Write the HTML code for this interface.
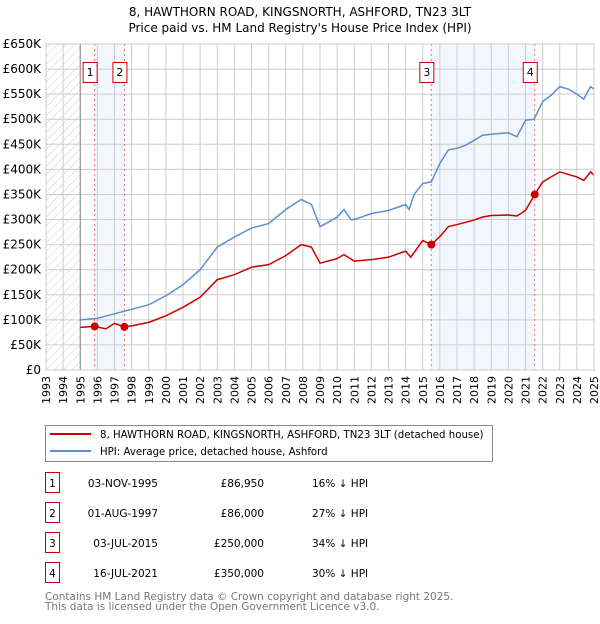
<!DOCTYPE html>
<html><head><meta charset="utf-8"><style>
body{margin:0;background:#fff;font-family:"DejaVu Sans","Liberation Sans",sans-serif}
svg text{font-family:"DejaVu Sans","Liberation Sans",sans-serif}
</style></head><body>
<svg id="c" width="600" height="620" xmlns="http://www.w3.org/2000/svg">
<defs><pattern id="hatch" width="6" height="6" patternUnits="userSpaceOnUse" patternTransform="rotate(45)"><line x1="0" y1="0" x2="0" y2="6" stroke="#ccc" stroke-width="1"/></pattern></defs>
<text x="300" y="16" text-anchor="middle" font-size="12">8, HAWTHORN ROAD, KINGSNORTH, ASHFORD, TN23 3LT</text>
<text x="300" y="32" text-anchor="middle" font-size="12">Price paid vs. HM Land Registry's House Price Index (HPI)</text>
<g id="plot"></g>
<g>
<rect x="45.5" y="425.5" width="447" height="36" fill="#fff" stroke="#888"/>
<line x1="50" y1="434" x2="91" y2="434" stroke="#cc0000" stroke-width="2"/>
<text x="100" y="438" font-size="10.2">8, HAWTHORN ROAD, KINGSNORTH, ASHFORD, TN23 3LT (detached house)</text>
<line x1="50" y1="451" x2="91" y2="451" stroke="#5b8fd1" stroke-width="2"/>
<text x="100" y="455" font-size="10.2">HPI: Average price, detached house, Ashford</text>
</g>
<g id="tbl" font-size="10.5"></g>
<text x="45" y="600" font-size="10.5" fill="#777">Contains HM Land Registry data © Crown copyright and database right 2025.</text>
<text x="45" y="610" font-size="10.5" fill="#777">This data is licensed under the Open Government Licence v3.0.</text>
</svg>
<script>
const hpiYears=[1995,1996,1997,1998,1999,2000,2001,2002,2003,2004,2005,2006,2007,2007.9,2008.5,2009,2009.5,2010,2010.4,2010.8,2011,2012,2013,2014,2014.2,2014.5,2015,2015.5,2016,2016.5,2017,2017.5,2018,2018.5,2019,2020,2020.5,2021,2021.5,2022,2022.5,2023,2023.5,2024,2024.4,2024.8,2025];
const hpiValues=[100,103,112,121,130,148,170,200,245,265,283,292,320,340,330,286,295,305,320,300,300,312,318,330,320,350,372,375,412,439,442,448,458,468,470,473,465,498,500,535,548,565,560,550,540,565,560];
const ppYears=[1995,1995.84,1996.5,1997,1997.58,1998,1999,2000,2001,2002,2003,2004,2005,2006,2007,2007.9,2008.5,2009,2010,2010.4,2011,2012,2013,2014,2014.3,2015,2015.5,2016,2016.5,2017,2018,2018.5,2019,2020,2020.5,2021,2021.54,2022,2022.5,2023,2024,2024.4,2024.8,2025];
const ppValues=[85,87,82,93,86,88,95,108,125,145,180,190,205,210,228,250,245,213,222,230,217,220,225,237,225,258,250,266,286,290,299,305,308,309,307,318,350,375,385,395,385,378,395,388];
const saleYears=[1995.84,1997.58,2015.5,2021.54];
const saleValues=[86.95,86,250,350];
const saleLabels=["1","2","3","4"];
const saleDates=["03-NOV-1995","01-AUG-1997","03-JUL-2015","16-JUL-2021"];
const salePrices=["£86,950","£86,000","£250,000","£350,000"];
const saleDiffs=["16% ↓ HPI","27% ↓ HPI","34% ↓ HPI","30% ↓ HPI"];
const yTicks=[0,50,100,150,200,250,300,350,400,450,500,550,600,650];
const xTicks=[1993,1994,1995,1996,1997,1998,1999,2000,2001,2002,2003,2004,2005,2006,2007,2008,2009,2010,2011,2012,2013,2014,2015,2016,2017,2018,2019,2020,2021,2022,2023,2024,2025];
const X0=46,X1=594,Y0=370,Y1=44;
const xs=y=>X0+(y-1993)/(2025-1993)*(X1-X0);
const ys=v=>Y0-v/650*(Y0-Y1);
const NS="http://www.w3.org/2000/svg";
const plot=document.getElementById('plot');
function mk(t,a,p){const e=document.createElementNS(NS,t);for(const k in a)e.setAttribute(k,a[k]);(p||plot).appendChild(e);return e;}
let e;
e=mk('rect',{x:X0,y:Y1,width:X1-X0,height:Y0-Y1,fill:'#fff'});


e=mk('rect',{x:X0,y:Y1,width:xs(1995)-X0,height:Y0-Y1,fill:'url(#hatch)'});


[[0,1],[2,3]].forEach(([a,b],i)=>{
 e=mk('rect',{x:xs(saleYears[a]),y:Y1,width:xs(saleYears[b])-xs(saleYears[a]),height:Y0-Y1,fill:'#eef3fc',opacity:0.7});
 
 
});
xTicks.forEach(t=>{
 e=mk('line',{x1:xs(t),x2:xs(t),y1:Y1,y2:Y0,stroke:'#ccc'});
 
 
 e=mk('text',{x:0,y:0,'font-size':11,'text-anchor':'end',transform:`translate(${xs(t)+4},${Y0+6}) rotate(-90)`});
 e.textContent=t;
 
 
});
yTicks.forEach(t=>{
 e=mk('line',{x1:X0,x2:X1,y1:ys(t),y2:ys(t),stroke:'#ccc'});
 
 
 e=mk('text',{x:X0-5,y:ys(t)+4,'font-size':12,'text-anchor':'end'});
 e.textContent=t===0?'£0':'£'+t+'K';
 
 
});
e=mk('line',{x1:xs(1995),x2:xs(1995),y1:Y1,y2:Y0,stroke:'#888'});


saleYears.forEach((s,i)=>{
 e=mk('line',{x1:xs(s),x2:xs(s),y1:Y1,y2:Y0,stroke:'#f07070','stroke-dasharray':'2,3'});
 
 
});
e=mk('polyline',{points:hpiYears.map((y,i)=>xs(y)+','+ys(hpiValues[i])).join(' '),fill:'none',stroke:'#5b8fd1','stroke-width':1.5});


e=mk('polyline',{points:ppYears.map((y,i)=>xs(y)+','+ys(ppValues[i])).join(' '),fill:'none',stroke:'#cc0000','stroke-width':1.5});


saleYears.forEach((s,i)=>{
 e=mk('circle',{cx:xs(s),cy:ys(saleValues[i]),r:4,fill:'#cc0000'});
 
 
 e=mk('rect',{x:xs(s)-11.5,y:62.5,width:14,height:20,fill:'#fff',stroke:'#cc0000'});
 
 
 e=mk('text',{x:xs(s)-4.5,y:76,'font-size':11,'text-anchor':'middle'});
 e.textContent=saleLabels[i];
 
 
});
e=mk('rect',{x:X0,y:Y1,width:X1-X0,height:Y0-Y1,fill:'none',stroke:'#ccc'});
const tbl=document.getElementById('tbl');
saleLabels.forEach((l,i)=>{
 const y=483+i*30;
 e=mk('rect',{x:45.5,y:y-10.5,width:14,height:20,fill:'#fff',stroke:'#cc0000'},tbl);
 
 
 e=mk('text',{x:52.5,y:y+4,'text-anchor':'middle'},tbl);e.textContent=l;
 
 
 e=mk('text',{x:158,y:y+4,'text-anchor':'end'},tbl);e.textContent=saleDates[i];
 
 
 e=mk('text',{x:264,y:y+4,'text-anchor':'end'},tbl);e.textContent=salePrices[i];
 
 
 e=mk('text',{x:312,y:y+4},tbl);e.textContent=saleDiffs[i];
 
 
});
</script>
</body></html>
